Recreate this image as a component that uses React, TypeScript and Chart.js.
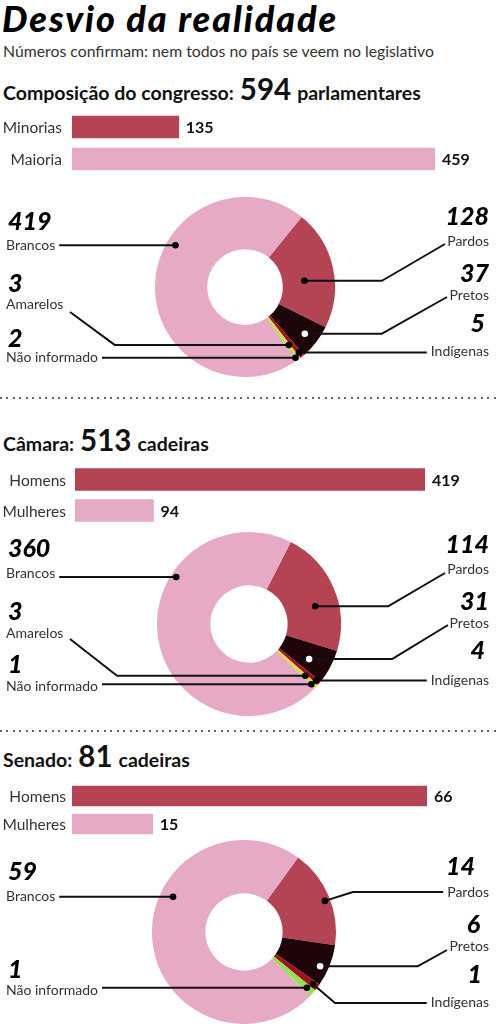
import React, { useEffect, useRef } from 'react';
import { Chart, registerables } from 'chart.js';

Chart.register(...registerables);

// ---------- data ----------
const sectionTitles = ['Composição do congresso:', 'Câmara:', 'Senado:'];
const sectionTotals = [594, 513, 81];
const sectionUnits = ['parlamentares', 'cadeiras', 'cadeiras'];

const congressBarLabels = ['Minorias', 'Maioria'];
const congressBarValues = [135, 459];
const camaraBarLabels = ['Homens', 'Mulheres'];
const camaraBarValues = [419, 94];
const senadoBarLabels = ['Homens', 'Mulheres'];
const senadoBarValues = [66, 15];

const raceLabels = ['Pardos', 'Pretos', 'Indígenas', 'Amarelos', 'Não informado', 'Brancos'];
const congressRace = [128, 37, 5, 3, 2, 419];
const camaraRace = [114, 31, 4, 3, 1, 360];
const senadoRace = [14, 6, 1, 0, 1, 59];

// ---------- styles ----------
const FONT = 'Lato, "Noto Sans", sans-serif';
const ROSE = '#b44454';
const PINK = '#e7aac4';
const raceColors = [ROSE, '#1e0509', '#a3101f', '#e5dc2e', '#8ee64a', PINK];
const barColors = [ROSE, PINK];
const NAME_FONT = '14px Lato, "Noto Sans", sans-serif';
const NUM_FONT = 'italic 900 25px Lato, "Noto Sans", sans-serif';
const NAME_L = 6;
const NUM_L = 8;
const NAME_R = 489;
const NUM_R = 489;

type Callout = {
  i: number;
  side: 'L' | 'R';
  numY: number;
  nameY: number;
  t: number;
  f: number;
  mode: 'h' | 'dh' | 'hd';
  sx?: number;
  sy?: number;
  ex?: number;
  numR?: number;
  white?: boolean;
};

const congressCallouts: Callout[] = [
  { i: 5, side: 'L', numY: 222, nameY: 245, t: 0.614, f: 0.83, mode: 'h' },
  { i: 3, side: 'L', numY: 284, nameY: 304, t: 0.5, f: 0.67, mode: 'dh', sx: 70, sy: 312, ex: 115 },
  { i: 4, side: 'L', numY: 339, nameY: 357, t: 0.5, f: 0.94, mode: 'h' },
  { i: 0, side: 'R', numY: 217, nameY: 241, t: 0.58, f: 0.42, mode: 'dh', sx: 445, sy: 244, ex: 382 },
  { i: 1, side: 'R', numY: 274, nameY: 295, t: 0.51, f: 0.73, mode: 'dh', sx: 447, sy: 297, ex: 382, white: true },
  { i: 2, side: 'R', numY: 324, nameY: 351, t: 0.5, f: 0.9, mode: 'h', numR: 485 },
];

const camaraCallouts: Callout[] = [
  { i: 5, side: 'L', numY: 549, nameY: 573, t: 0.667, f: 0.9, mode: 'h' },
  { i: 3, side: 'L', numY: 612, nameY: 633, t: 0.5, f: 0.71, mode: 'dh', sx: 70, sy: 639, ex: 117 },
  { i: 4, side: 'L', numY: 665, nameY: 686, t: 0.5, f: 0.9, mode: 'h' },
  { i: 0, side: 'R', numY: 545, nameY: 569, t: 0.6, f: 0.56, mode: 'dh', sx: 445, sy: 573, ex: 388 },
  { i: 1, side: 'R', numY: 602, nameY: 623, t: 0.61, f: 0.58, mode: 'dh', sx: 448, sy: 625, ex: 392, white: true },
  { i: 2, side: 'R', numY: 651, nameY: 680, t: 0.5, f: 0.92, mode: 'h', numR: 485 },
];

const senadoCallouts: Callout[] = [
  { i: 5, side: 'L', numY: 872, nameY: 896, t: 0.62, f: 0.76, mode: 'h' },
  { i: 4, side: 'L', numY: 970, nameY: 990, t: 0.5, f: 0.85, mode: 'h' },
  { i: 0, side: 'R', numY: 867, nameY: 892, t: 0.53, f: 0.9, mode: 'hd', sy: 892, ex: 353, numR: 475 },
  { i: 1, side: 'R', numY: 925, nameY: 946, t: 0.6, f: 0.84, mode: 'dh', sx: 447, sy: 950, ex: 418, white: true, numR: 480 },
  { i: 2, side: 'R', numY: 975, nameY: 1002, t: 0.5, f: 0.9, mode: 'hd', sy: 1003, ex: 335, numR: 482 },
];

// ---------- components ----------
function BarBlock(props: {
  labels: string[];
  values: number[];
  top: number;
  height: number;
  barLeft: number;
  barRight: number;
  thickness: number;
  labelGap: number;
}) {
  const ref = useRef<HTMLCanvasElement>(null);
  useEffect(() => {
    const { labels, values, barLeft, barRight, thickness, labelGap } = props;
    const labelPlugin = {
      id: 'barLabels',
      afterDatasetsDraw(chart: any) {
        const ctx = chart.ctx;
        const meta = chart.getDatasetMeta(0);
        ctx.save();
        ctx.textBaseline = 'middle';
        meta.data.forEach((bar: any, idx: number) => {
          const p = bar.getProps(['x', 'y', 'base'], true);
          ctx.font = '15.5px Lato, "Noto Sans", sans-serif';
          ctx.fillStyle = '#333';
          ctx.textAlign = 'right';
          ctx.fillText(labels[idx], chart.chartArea.left - labelGap, p.y + 1);
          ctx.font = 'bold 16px Lato, "Noto Sans", sans-serif';
          ctx.fillStyle = '#111';
          ctx.textAlign = 'left';
          ctx.fillText(String(values[idx]), p.x + 7, p.y + 1);
        });
        ctx.restore();
      },
    };
    const chart = new Chart(ref.current as HTMLCanvasElement, {
      type: 'bar',
      data: {
        labels,
        datasets: [
          {
            data: values,
            backgroundColor: barColors,
            borderWidth: 0,
            barThickness: thickness,
          },
        ],
      },
      options: {
        indexAxis: 'y',
        animation: false,
        responsive: false,
        layout: { padding: { left: barLeft, right: 500 - barRight, top: 0, bottom: 0 } },
        scales: {
          x: { display: false, min: 0, max: Math.max(...values) },
          y: { display: false },
        },
        plugins: { legend: { display: false }, tooltip: { enabled: false } },
      },
      plugins: [labelPlugin],
    } as any);
    return () => chart.destroy();
  }, []);
  return (
    <canvas
      ref={ref}
      width={500}
      height={props.height}
      style={{ position: 'absolute', left: 0, top: props.top, width: 500, height: props.height }}
    />
  );
}

function DoughnutBlock(props: {
  values: number[];
  top: number;
  height: number;
  padTop: number;
  padBottom: number;
  padRight: number;
  radius: number;
  rotation: number;
  callouts: Callout[];
}) {
  const ref = useRef<HTMLCanvasElement>(null);
  useEffect(() => {
    const { values, top, callouts } = props;
    const calloutPlugin = {
      id: 'callouts',
      afterDatasetsDraw(chart: any) {
        const ctx = chart.ctx;
        const meta = chart.getDatasetMeta(0);
        ctx.save();
        ctx.textBaseline = 'middle';
        for (const c of callouts) {
          const arc = meta.data[c.i];
          const p = arc.getProps(['x', 'y', 'startAngle', 'endAngle', 'innerRadius', 'outerRadius'], true);
          const a = p.startAngle + c.t * (p.endAngle - p.startAngle);
          const r = p.innerRadius + c.f * (p.outerRadius - p.innerRadius);
          const dx = p.x + Math.cos(a) * r;
          const dy = p.y + Math.sin(a) * r;
          const name = raceLabels[c.i];
          ctx.font = NAME_FONT;
          const nw = ctx.measureText(name).width;
          const ny = c.nameY - top;
          const nuy = c.numY - top;
          ctx.fillStyle = '#333';
          if (c.side === 'L') {
            ctx.textAlign = 'left';
            ctx.fillText(name, NAME_L, ny);
            ctx.font = NUM_FONT;
            ctx.fillStyle = '#000';
            ctx.fillText(String(values[c.i]), NUM_L, nuy);
          } else {
            ctx.textAlign = 'right';
            ctx.fillText(name, NAME_R, ny);
            ctx.font = NUM_FONT;
            ctx.fillStyle = '#000';
            ctx.fillText(String(values[c.i]), c.numR !== undefined ? c.numR : NUM_R, nuy);
          }
          const autoX = c.side === 'L' ? NAME_L + nw + 4 : NAME_R - nw - 4;
          const pts: number[][] = [];
          if (c.mode === 'h') {
            pts.push([autoX, dy]);
          } else if (c.mode === 'dh') {
            pts.push([c.sx as number, (c.sy as number) - top], [c.ex as number, dy]);
          } else {
            const sx = c.sx !== undefined ? c.sx : autoX;
            pts.push([sx, (c.sy as number) - top], [c.ex as number, (c.sy as number) - top]);
          }
          pts.push([dx, dy]);
          ctx.beginPath();
          ctx.moveTo(pts[0][0], pts[0][1]);
          for (let k = 1; k < pts.length; k++) ctx.lineTo(pts[k][0], pts[k][1]);
          ctx.lineWidth = 2;
          ctx.strokeStyle = '#111';
          ctx.lineJoin = 'round';
          ctx.stroke();
          ctx.beginPath();
          ctx.arc(dx, dy, 3.3, 0, Math.PI * 2);
          ctx.fillStyle = c.white ? '#fff' : '#000';
          ctx.fill();
        }
        ctx.restore();
      },
    };
    const chart = new Chart(ref.current as HTMLCanvasElement, {
      type: 'doughnut',
      data: {
        labels: raceLabels,
        datasets: [{ data: values, backgroundColor: raceColors, borderWidth: 0 }],
      },
      options: {
        animation: false,
        responsive: false,
        radius: props.radius,
        cutout: '42%',
        rotation: props.rotation,
        layout: { padding: { top: props.padTop, bottom: props.padBottom, left: 0, right: props.padRight } },
        plugins: { legend: { display: false }, tooltip: { enabled: false } },
      },
      plugins: [calloutPlugin],
    } as any);
    return () => chart.destroy();
  }, []);
  return (
    <canvas
      ref={ref}
      width={500}
      height={props.height}
      style={{ position: 'absolute', left: 0, top: props.top, width: 500, height: props.height }}
    />
  );
}

function Header(props: { top: number; idx: number }) {
  return (
    <div
      style={{
        position: 'absolute',
        left: 3,
        top: props.top,
        display: 'flex',
        alignItems: 'baseline',
        whiteSpace: 'nowrap',
        fontFamily: FONT,
        fontWeight: 700,
        color: '#111',
      }}
    >
      <span style={{ fontSize: 19.5, lineHeight: 1 }}>{sectionTitles[props.idx]}</span>
      <span style={{ fontSize: 29.5, lineHeight: 1, margin: '0 6px' }}>{sectionTotals[props.idx]}</span>
      <span style={{ fontSize: 19.5, lineHeight: 1 }}>{sectionUnits[props.idx]}</span>
    </div>
  );
}

function Separator(props: { top: number }) {
  return (
    <div
      style={{
        position: 'absolute',
        left: 0,
        top: props.top,
        width: 500,
        height: 2,
        background: 'repeating-linear-gradient(to right, #666 0px, #666 2px, transparent 2px, transparent 6.5px)',
      }}
    />
  );
}

export default function App() {
  return (
    <div
      style={{
        position: 'absolute',
        left: 0,
        top: 0,
        width: 500,
        height: 1024,
        background: '#fff',
        overflow: 'hidden',
        fontFamily: FONT,
      }}
    >
      <div
        style={{
          position: 'absolute',
          left: 2,
          top: 0,
          fontSize: 36,
          lineHeight: 1,
          fontWeight: 900,
          fontStyle: 'italic',
          letterSpacing: 1.9,
          color: '#000',
          whiteSpace: 'nowrap',
        }}
      >
        Desvio da realidade
      </div>
      <div
        style={{
          position: 'absolute',
          left: 3,
          top: 43,
          fontSize: 15.8,
          lineHeight: 1,
          color: '#333',
          whiteSpace: 'nowrap',
        }}
      >
        Números confirmam: nem todos no país se veem no legislativo
      </div>

      <Header top={74} idx={0} />
      <BarBlock labels={congressBarLabels} values={congressBarValues} top={111} height={64} barLeft={72} barRight={435} thickness={22} labelGap={10} />
      <DoughnutBlock values={congressRace} top={190} height={200} padTop={0} padBottom={6} padRight={10} radius={90} rotation={39} callouts={congressCallouts} />
      <Separator top={397} />

      <Header top={425} idx={1} />
      <BarBlock labels={camaraBarLabels} values={camaraBarValues} top={464} height={62} barLeft={75} barRight={425} thickness={22} labelGap={9} />
      <DoughnutBlock values={camaraRace} top={525} height={200} padTop={0} padBottom={2} padRight={2} radius={92} rotation={27} callouts={camaraCallouts} />
      <Separator top={730} />

      <Header top={741} idx={2} />
      <BarBlock labels={senadoBarLabels} values={senadoBarValues} top={782} height={56} barLeft={72} barRight={427} thickness={20} labelGap={6} />
      <DoughnutBlock values={senadoRace} top={836} height={188} padTop={4} padBottom={0} padRight={12} radius={92} rotation={36} callouts={senadoCallouts} />
    </div>
  );
}
